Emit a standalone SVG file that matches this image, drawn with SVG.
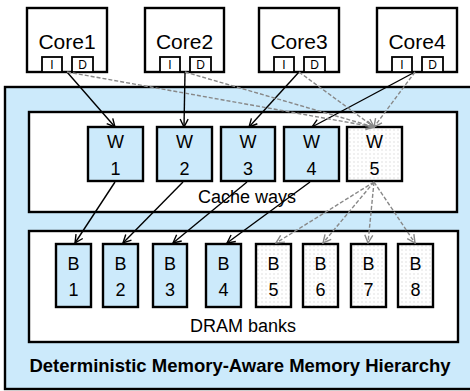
<svg xmlns="http://www.w3.org/2000/svg" width="470" height="391" viewBox="0 0 470 391">
<defs>
<style>
.box{fill:#fff;stroke:#000;stroke-width:2.4}
.blue{fill:#cceafb;stroke:#000;stroke-width:2.4}
.dot{fill:url(#dots);stroke:#000;stroke-width:2.4}
.port{fill:#fff;stroke:#000;stroke-width:1.8}
.t{font-family:"Liberation Sans",Arial,sans-serif;fill:#000;text-anchor:middle}
.core{font-size:21px}
.lbl{font-size:18px}
.small{font-size:12px}
.solid{stroke:#000;stroke-width:1.4;fill:none;marker-end:url(#ah)}
.dash{stroke:#888;stroke-width:1.4;fill:none;stroke-dasharray:4 2;marker-end:url(#ahg)}
</style>
<pattern id="dots" width="4" height="4" patternUnits="userSpaceOnUse">
<rect width="4" height="4" fill="#fff"/>
<rect x="1.5" y="1.5" width="1" height="1" fill="#c4c4c4"/>
</pattern>
<marker id="ah" viewBox="-9 -5 10 10" refX="0" refY="0" markerWidth="10" markerHeight="10" markerUnits="userSpaceOnUse" orient="auto">
<path d="M-8,-4 L0,0 L-8,4" fill="none" stroke="#000" stroke-width="1.4"/>
</marker>
<marker id="ahg" viewBox="-9 -5 10 10" refX="0" refY="0" markerWidth="10" markerHeight="10" markerUnits="userSpaceOnUse" orient="auto">
<path d="M-8,-4 L0,0 L-8,4" fill="none" stroke="#888" stroke-width="1.4"/>
</marker>
</defs>

<g id="hierarchy">
<rect x="5" y="87" width="470" height="302" class="blue"/>
<text x="240" y="372" class="t" style="font-size:18.5px;font-weight:bold">Deterministic Memory-Aware Memory Hierarchy</text>
</g>

<g id="cache-ways">
<rect x="29" y="112" width="428" height="100" class="box"/>
<text x="247" y="203" class="t" style="font-size:18px">Cache ways</text>
</g>

<g id="dram-banks">
<rect x="29" y="231" width="429" height="111" class="box"/>
<text x="243" y="332" class="t" style="font-size:18px">DRAM banks</text>
</g>

<g id="core1">
<rect x="27" y="8" width="80" height="64" class="box"/>
<text x="67" y="49" class="t core">Core1</text>
<rect x="42" y="57" width="20" height="15" class="port"/>
<text x="52" y="69" class="t small">I</text>
<rect x="72" y="57" width="21" height="15" class="port"/>
<text x="82.5" y="69" class="t small">D</text>
</g>
<g id="core2">
<rect x="145" y="8" width="79" height="64" class="box"/>
<text x="184.5" y="49" class="t core">Core2</text>
<rect x="160" y="57" width="20" height="15" class="port"/>
<text x="170" y="69" class="t small">I</text>
<rect x="190" y="57" width="21" height="15" class="port"/>
<text x="200.5" y="69" class="t small">D</text>
</g>
<g id="core3">
<rect x="259" y="8" width="80" height="64" class="box"/>
<text x="299" y="49" class="t core">Core3</text>
<rect x="274" y="57" width="20" height="15" class="port"/>
<text x="284" y="69" class="t small">I</text>
<rect x="304" y="57" width="21" height="15" class="port"/>
<text x="314.5" y="69" class="t small">D</text>
</g>
<g id="core4">
<rect x="377" y="8" width="80" height="64" class="box"/>
<text x="417" y="49" class="t core">Core4</text>
<rect x="392" y="57" width="20" height="15" class="port"/>
<text x="402" y="69" class="t small">I</text>
<rect x="422" y="57" width="21" height="15" class="port"/>
<text x="432.5" y="69" class="t small">D</text>
</g>

<g id="w1"><rect x="88" y="127" width="55" height="54" class="blue"/><text x="115.5" y="148" class="t lbl">W</text><text x="115.5" y="175" class="t lbl">1</text></g>
<g id="w2"><rect x="157" y="127" width="55" height="54" class="blue"/><text x="184.5" y="148" class="t lbl">W</text><text x="184.5" y="175" class="t lbl">2</text></g>
<g id="w3"><rect x="221" y="127" width="54" height="54" class="blue"/><text x="248" y="148" class="t lbl">W</text><text x="248" y="175" class="t lbl">3</text></g>
<g id="w4"><rect x="284" y="127" width="55" height="54" class="blue"/><text x="311.5" y="148" class="t lbl">W</text><text x="311.5" y="175" class="t lbl">4</text></g>
<g id="w5"><rect x="347" y="127" width="55" height="54" class="dot"/><text x="374.5" y="148" class="t lbl">W</text><text x="374.5" y="175" class="t lbl">5</text></g>

<g id="b1"><rect x="56" y="244" width="35" height="63" class="blue"/><text x="73.5" y="270" class="t lbl">B</text><text x="73.5" y="296" class="t lbl">1</text></g>
<g id="b2"><rect x="103" y="244" width="35" height="63" class="blue"/><text x="120.5" y="270" class="t lbl">B</text><text x="120.5" y="296" class="t lbl">2</text></g>
<g id="b3"><rect x="153" y="244" width="34" height="63" class="blue"/><text x="170" y="270" class="t lbl">B</text><text x="170" y="296" class="t lbl">3</text></g>
<g id="b4"><rect x="206" y="244" width="35" height="63" class="blue"/><text x="223.5" y="270" class="t lbl">B</text><text x="223.5" y="296" class="t lbl">4</text></g>
<g id="b5"><rect x="256" y="244" width="35" height="63" class="dot"/><text x="273.5" y="270" class="t lbl">B</text><text x="273.5" y="296" class="t lbl">5</text></g>
<g id="b6"><rect x="303" y="244" width="35" height="63" class="dot"/><text x="320.5" y="270" class="t lbl">B</text><text x="320.5" y="296" class="t lbl">6</text></g>
<g id="b7"><rect x="351" y="244" width="35" height="63" class="dot"/><text x="368.5" y="270" class="t lbl">B</text><text x="368.5" y="296" class="t lbl">7</text></g>
<g id="b8"><rect x="398" y="244" width="35" height="63" class="dot"/><text x="415.5" y="270" class="t lbl">B</text><text x="415.5" y="296" class="t lbl">8</text></g>

<g id="connectors">
<line x1="67" y1="72" x2="115" y2="127" class="solid"/>
<line x1="185" y1="72" x2="184" y2="127" class="solid"/>
<line x1="299" y1="72" x2="249" y2="127" class="solid"/>
<line x1="415" y1="72" x2="312" y2="127" class="solid"/>
<line x1="67" y1="72" x2="374" y2="127" class="dash"/>
<line x1="185" y1="72" x2="374" y2="127" class="dash"/>
<line x1="299" y1="72" x2="374" y2="127" class="dash"/>
<line x1="415" y1="72" x2="374" y2="127" class="dash"/>
<line x1="115" y1="182" x2="75" y2="243" class="solid"/>
<line x1="183" y1="182" x2="123" y2="243" class="solid"/>
<line x1="247" y1="182" x2="173" y2="243" class="solid"/>
<line x1="310" y1="182" x2="227" y2="243" class="solid"/>
<line x1="374" y1="182" x2="276" y2="243" class="dash"/>
<line x1="374" y1="182" x2="323" y2="243" class="dash"/>
<line x1="374" y1="182" x2="368" y2="243" class="dash"/>
<line x1="374" y1="182" x2="415" y2="243" class="dash"/>
</g>
</svg>
